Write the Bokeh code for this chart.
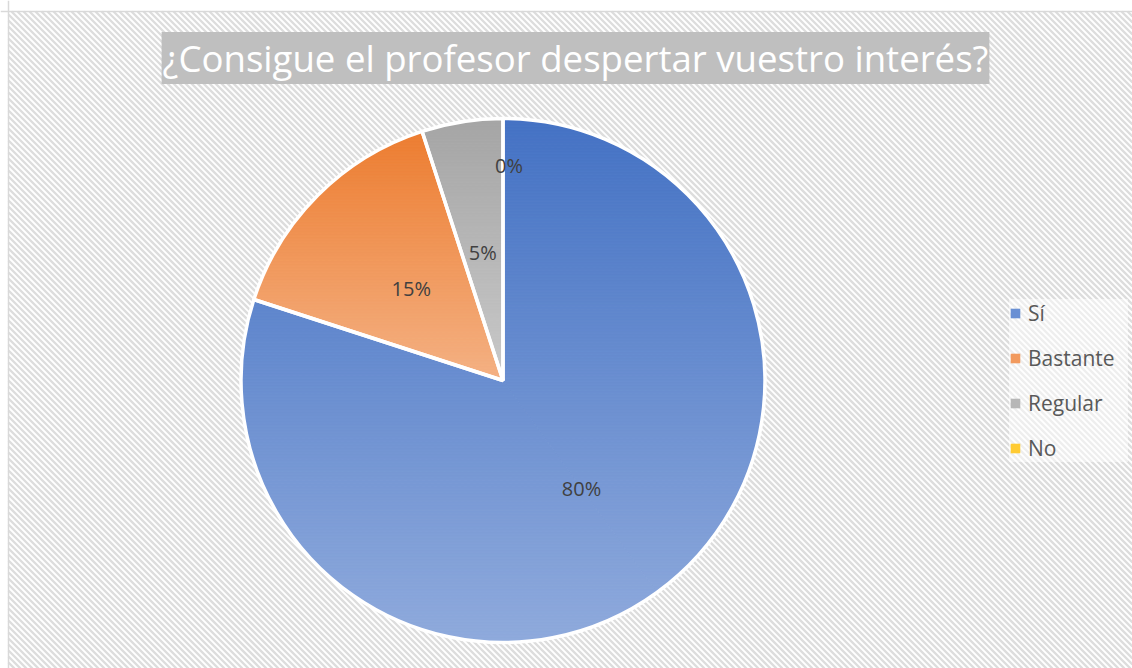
import numpy as np
from bokeh.plotting import figure
from bokeh.models import Range1d, Label, Legend, LegendItem, Span, ColumnDataSource
from bokeh.core.properties import value
from bokeh.embed import file_html
from bokeh.resources import INLINE

# ---------------- data ----------------
categories = ["Sí", "Bastante", "Regular", "No"]
percentages = [80, 15, 5, 0]
title_text = "¿Consigue el profesor despertar vuestro interés?"

# ---------------- style ----------------
colors_top = ["#4472c4", "#ed7d31", "#a5a5a5", "#ffc000"]
colors_bottom = ["#8faadc", "#f4b183", "#c9c9c9", "#ffd966"]
legend_colors = ["#6a90d4", "#f29a5e", "#b7b7b7", "#ffcb33"]
label_radius_frac = [0.51, 0.495, 0.495, 0.82]
label_x_offset = [0, 0, 0, 6]

FW, FH = 1132, 668          # frame size (pixel-like data units)
AREA_X0, AREA_Y1 = 8, 657   # chart-area border (left, top)
CX, CY, R = 502.5, 288.0, 262.0

p = figure(width=FW, height=FH, x_range=Range1d(0, FW), y_range=Range1d(0, FH),
           output_backend="svg", toolbar_location=None,
           x_axis_location=None, y_axis_location=None,
           min_border_top=0, min_border_left=0, min_border_right=0, min_border_bottom=0)
p.grid.visible = False
p.outline_line_color = None
p.background_fill_color = "white"
p.border_fill_color = "white"

# hatched chart-area background (diagonal stripes, decoration)
sx0, sx1, sy0, sy1 = AREA_X0, FW, 0, AREA_Y1
hx0, hy0, hx1, hy1 = [], [], [], []
for k in np.arange(sx0 + sy0, sx1 + sy1 + 6, 6.0):
    xa = max(sx0, k - sy1)
    xb = min(sx1, k - sy0)
    if xa < xb:
        hx0.append(xa); hy0.append(k - xa); hx1.append(xb); hy1.append(k - xb)
p.segment(x0=hx0, y0=hy0, x1=hx1, y1=hy1, line_color="#dddddd", line_width=2.4)
p.add_layout(Span(location=AREA_X0, dimension="height", line_color="#d9d9d9", line_width=1.5))
p.add_layout(Span(location=AREA_Y1, dimension="width", line_color="#d9d9d9", line_width=1.5))


def hex2rgb(h):
    h = h.lstrip("#")
    return np.array([int(h[i:i + 2], 16) for i in (0, 2, 4)], dtype=float)


def mix(c0, c1, t):
    c = hex2rgb(c0) * (1 - t) + hex2rgb(c1) * t
    return "#%02x%02x%02x" % tuple(int(round(v)) for v in c)


def clip_half(poly, y0, keep_above):
    out = []
    n = len(poly)
    for i in range(n):
        P = poly[i]
        Q = poly[(i + 1) % n]
        inP = P[1] >= y0 if keep_above else P[1] <= y0
        inQ = Q[1] >= y0 if keep_above else Q[1] <= y0
        if inP:
            out.append(P)
        if inP != inQ:
            t = (y0 - P[1]) / (Q[1] - P[1])
            out.append((P[0] + t * (Q[0] - P[0]), y0))
    return out


def sector(c0, c1):
    n = max(2, int(np.ceil((c1 - c0) / np.radians(0.5))) + 1)
    a = np.linspace(c0, c1, n)
    pts = [(CX, CY)] + [(CX + R * np.sin(t), CY + R * np.cos(t)) for t in a]
    return pts


total = float(sum(percentages))
fracs = [v / total for v in percentages]
cum = np.concatenate([[0.0], np.cumsum(fracs)])
clock0 = cum[:-1] * 2 * np.pi
clock1 = cum[1:] * 2 * np.pi

xs, ys, cols = [], [], []
step = 3.0
for i in range(len(categories)):
    c0, c1 = clock0[i], clock1[i]
    if c1 - c0 <= 1e-9:
        continue
    npieces = int(np.ceil((c1 - c0) / np.pi))
    edges = np.linspace(c0, c1, npieces + 1)
    pieces = [sector(edges[k], edges[k + 1]) for k in range(npieces)]
    allpts = [pt for pc in pieces for pt in pc]
    ymin = min(pt[1] for pt in allpts)
    ymax = max(pt[1] for pt in allpts)
    yb = ymin
    while yb < ymax:
        y1 = min(yb + step, ymax)
        t = (ymax - 0.5 * (yb + y1)) / (ymax - ymin)
        col = mix(colors_top[i], colors_bottom[i], t)
        for pc in pieces:
            poly = clip_half(pc, yb - 0.3, True)
            if len(poly) < 3:
                continue
            poly = clip_half(poly, y1 + 0.3, False)
            if len(poly) < 3:
                continue
            xs.append([q[0] for q in poly])
            ys.append([q[1] for q in poly])
            cols.append(col)
        yb = y1

p.patches(xs=xs, ys=ys, fill_color=cols, line_color=cols, line_width=0.8)

# white separators / outline
start_math = [np.pi / 2 - c for c in clock0]
end_math = [np.pi / 2 - c for c in clock1]
keep = [i for i in range(len(categories)) if percentages[i] > 0]
wsrc = ColumnDataSource(dict(start=[start_math[i] for i in keep], end=[end_math[i] for i in keep]))
p.wedge(x=CX, y=CY, radius=R, start_angle="start", end_angle="end", direction="clock",
        source=wsrc, fill_color=None, line_color="white", line_width=3.5)

# data labels
mid = 0.5 * (clock0 + clock1)
lx = [CX + label_radius_frac[i] * R * np.sin(mid[i]) for i in range(len(categories))]
ly = [CY + label_radius_frac[i] * R * np.cos(mid[i]) for i in range(len(categories))]
ltxt = ["%d%%" % round(f * 100) for f in fracs]
p.text(x=lx, y=ly, text=ltxt, x_offset=label_x_offset, text_align="center", text_baseline="middle",
       text_font=value("Open Sans"), text_font_size="20px", text_color="#404040")

# title
title = Label(x=575, y=610.5, text=title_text, text_align="center", text_baseline="middle",
              text_color="white", text_font="Open Sans", text_font_size="36.6px",
              background_fill_color="#bfbfbf", padding=1)
p.add_layout(title)

# legend
items = []
for i, c in enumerate(categories):
    r = p.quad(left=[np.nan], right=[np.nan], top=[np.nan], bottom=[np.nan],
               fill_color=legend_colors[i], line_color=None)
    items.append(LegendItem(label=c, renderers=[r]))
legend = Legend(items=items, location=(1009, 206), orientation="vertical",
                glyph_width=12, glyph_height=12, label_standoff=7, spacing=17, padding=12,
                label_width=100,
                label_text_font="Open Sans", label_text_font_size="21px", label_text_color="#595959",
                background_fill_color="white", background_fill_alpha=0.5, border_line_color=None)
p.add_layout(legend, "center")

open("out.html", "w").write(file_html(p, INLINE))
